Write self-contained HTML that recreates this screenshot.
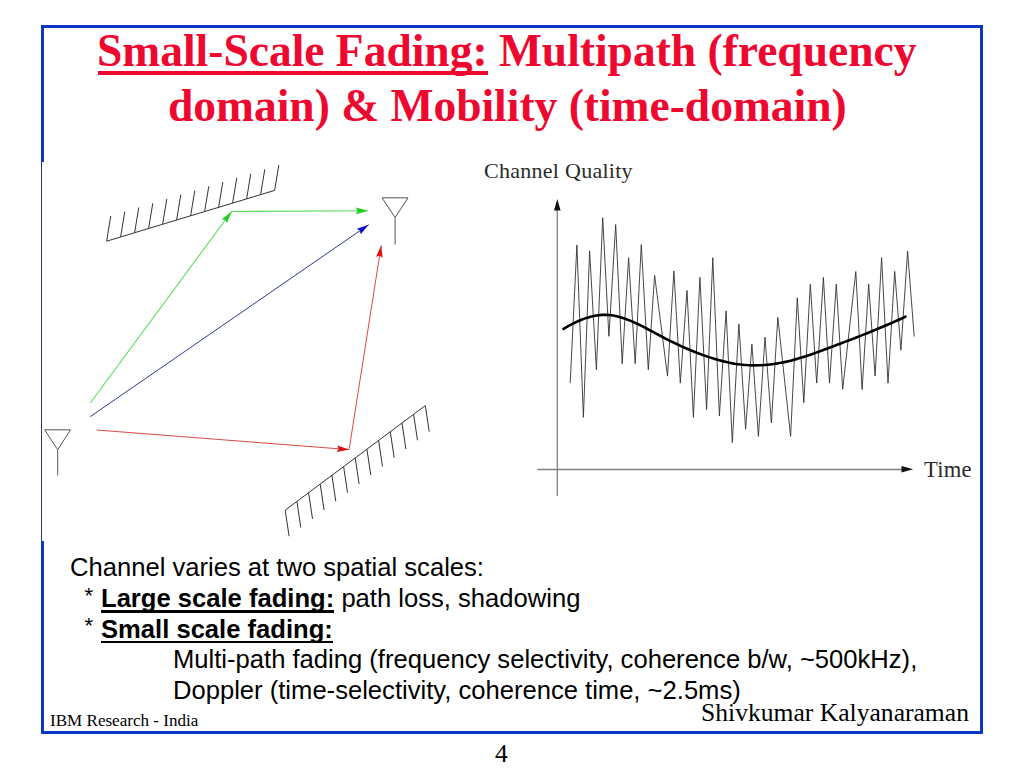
<!DOCTYPE html>
<html><head><meta charset="utf-8"><style>
html,body{margin:0;padding:0;background:#fff;width:1024px;height:768px;overflow:hidden;position:relative}
.frame{position:absolute;left:41px;top:25px;width:942px;height:709px;box-sizing:border-box;border:3px solid #0c36c8}
u{text-decoration:none;position:relative}
.tu{position:absolute;background:#ee0830}
.bu{position:absolute;background:#000}
</style></head><body>
<div class="frame"></div>
<svg width="1024" height="768" style="position:absolute;left:0;top:0"><rect x="42" y="162" width="933" height="379" fill="#fff"/><rect x="41" y="162" width="1" height="379" fill="#26358a"/><g stroke="#333" stroke-width="1" fill="none"><path d="M106.6 241.2 L274.6 190.4 M106.6 241.2 l4.2 -25.3 M120.6 237.0 l4.2 -25.3 M134.6 232.7 l4.2 -25.3 M148.6 228.5 l4.2 -25.3 M162.6 224.3 l4.2 -25.3 M176.6 220.0 l4.2 -25.3 M190.6 215.8 l4.2 -25.3 M204.6 211.6 l4.2 -25.3 M218.6 207.3 l4.2 -25.3 M232.6 203.1 l4.2 -25.3 M246.6 198.9 l4.2 -25.3 M260.6 194.6 l4.2 -25.3 M274.6 190.4 l4.2 -25.3" /><path d="M285.2 510.2 L425.3 405.6 M285.2 510.2 l3.9 26 M296.9 501.5 l3.9 26 M308.6 492.8 l3.9 26 M320.2 484.1 l3.9 26 M331.9 475.3 l3.9 26 M343.6 466.6 l3.9 26 M355.2 457.9 l3.9 26 M366.9 449.2 l3.9 26 M378.6 440.5 l3.9 26 M390.3 431.8 l3.9 26 M402.0 423.0 l3.9 26 M413.6 414.3 l3.9 26 M425.3 405.6 l3.9 26" /><path d="M382 197.8 L408 197.8 L395.1 217.5 Z M395.1 217.5 L395.1 244.7" stroke="#555" stroke-width="1"/><path d="M44.7 429.8 L70.5 429.8 L57.7 449.8 Z M57.7 449.8 L57.7 475.6" stroke="#555" stroke-width="1"/></g><path d="M90.3 403 L231.6 211.5 L368 210.8" stroke="#5cdc60" stroke-width="1.1" fill="none"/><path d="M231.6 211.5 L227.1 223.1 L225.3 220.0 L221.8 219.2 Z" fill="#22cc22" stroke="none"/><path d="M368.0 210.8 L356.0 214.2 L357.4 210.9 L356.0 207.6 Z" fill="#22cc22" stroke="none"/><path d="M90.3 416.6 L368.7 224.7" stroke="#2c3a88" stroke-width="1" fill="none"/><path d="M368.7 224.7 L360.7 234.2 L360.0 230.7 L356.9 228.8 Z" fill="#0a0ad0" stroke="none"/><path d="M96.6 430 L349.1 449.6 L381.2 245.4" stroke="#d84a4a" stroke-width="1" fill="none"/><path d="M349.1 449.6 L336.9 452.0 L338.6 448.8 L337.4 445.4 Z" fill="#dd1111" stroke="none"/><path d="M381.2 245.4 L382.6 257.8 L379.6 255.8 L376.1 256.7 Z" fill="#dd1111" stroke="none"/><path d="M557.3 205 L557.3 496" stroke="#808080" stroke-width="1.3"/><path d="M537.5 469.5 L905 469.5" stroke="#808080" stroke-width="1.3"/><path d="M557.3 198.9 L554 210.5 L560.6 210.5 Z" fill="#111"/><path d="M913.2 469.3 L901.5 466 L901.5 472.6 Z" fill="#111"/><path d="M570.2 383.1 L576.9 245.0 L583.4 417.3 L589.6 250.9 L596.4 369.8 L602.7 217.7 L608.9 336.3 L615.7 224.5 L622.2 363.6 L628.6 257.7 L635.2 363.6 L641.3 244.6 L648.3 369.8 L654.6 275.3 L667.5 376.1 L673.9 271.0 L680.3 383.1 L687.0 290.4 L693.4 417.3 L699.9 277.3 L706.6 409.5 L712.8 257.7 L719.4 415.9 L726.1 310.9 L732.3 442.5 L738.9 323.9 L745.6 429.2 L751.9 344.2 L758.4 436.3 L765.0 337.2 L771.4 423.0 L777.8 317.3 L790.6 436.3 L797.3 297.8 L803.8 402.7 L810.3 284.2 L816.7 383.1 L823.4 277.4 L829.5 383.1 L836.3 284.2 L842.7 389.2 L855.8 271.5 L862.1 389.5 L868.7 284.1 L875.1 376.0 L881.6 257.7 L888.0 383.1 L894.7 271.4 L900.9 350.2 L907.6 251.3 L914.2 336.6" stroke="#333" stroke-width="0.9" fill="none" stroke-linejoin="miter" stroke-miterlimit="20"/><path d="M563.5 328.81 L566.5 327.07 L569.5 325.41 L572.5 323.84 L575.5 322.37 L578.5 321.01 L581.5 319.76 L584.5 318.63 L587.5 317.64 L590.5 316.78 L593.5 316.06 L596.5 315.50 L599.5 315.10 L602.5 314.88 L605.5 314.83 L608.5 314.96 L611.5 315.28 L614.5 315.77 L617.5 316.42 L620.5 317.21 L623.5 318.14 L626.5 319.20 L629.5 320.36 L632.5 321.62 L635.5 322.97 L638.5 324.39 L641.5 325.88 L644.5 327.41 L647.5 328.98 L650.5 330.58 L653.5 332.20 L656.5 333.81 L659.5 335.42 L662.5 337.00 L665.5 338.55 L668.5 340.07 L671.5 341.56 L674.5 343.02 L677.5 344.45 L680.5 345.84 L683.5 347.19 L686.5 348.51 L689.5 349.79 L692.5 351.03 L695.5 352.24 L698.5 353.40 L701.5 354.52 L704.5 355.60 L707.5 356.64 L710.5 357.64 L713.5 358.58 L716.5 359.48 L719.5 360.33 L722.5 361.12 L725.5 361.85 L728.5 362.52 L731.5 363.12 L734.5 363.66 L737.5 364.12 L740.5 364.51 L743.5 364.83 L746.5 365.07 L749.5 365.23 L752.5 365.33 L755.5 365.35 L758.5 365.30 L761.5 365.18 L764.5 365.00 L767.5 364.74 L770.5 364.42 L773.5 364.04 L776.5 363.59 L779.5 363.08 L782.5 362.50 L785.5 361.87 L788.5 361.18 L791.5 360.42 L794.5 359.62 L797.5 358.77 L800.5 357.87 L803.5 356.93 L806.5 355.96 L809.5 354.95 L812.5 353.92 L815.5 352.85 L818.5 351.77 L821.5 350.67 L824.5 349.56 L827.5 348.44 L830.5 347.32 L833.5 346.19 L836.5 345.06 L839.5 343.92 L842.5 342.79 L845.5 341.64 L848.5 340.50 L851.5 339.34 L854.5 338.18 L857.5 337.01 L860.5 335.84 L863.5 334.65 L866.5 333.45 L869.5 332.25 L872.5 331.03 L875.5 329.80 L878.5 328.56 L881.5 327.30 L884.5 326.03 L887.5 324.74 L890.5 323.44 L893.5 322.12 L896.5 320.79 L899.5 319.44 L902.5 318.06 L905.4 316.72" stroke="#000" stroke-width="2.6" fill="none" stroke-linecap="round" stroke-linejoin="round"/></svg>
<div style="position:absolute;left:97px;top:27.59px;font-family:'Liberation Serif',serif;font-weight:bold;font-size:45.5px;line-height:45.5px;color:#ee0830;white-space:pre;">Small-Scale Fading: Multipath (frequency</div>
<div style="position:absolute;left:168px;top:82.89px;font-family:'Liberation Serif',serif;font-weight:bold;font-size:45.5px;line-height:45.5px;color:#ee0830;white-space:pre;">domain) &amp; Mobility (time-domain)</div>
<div style="position:absolute;left:70px;top:555.23px;font-family:'Liberation Sans',sans-serif;font-weight:normal;font-size:25.6px;line-height:25.6px;color:#000;white-space:pre;">Channel varies at two spatial scales:</div>
<div style="position:absolute;left:84.5px;top:584.58px;font-family:'Liberation Sans',sans-serif;font-weight:normal;font-size:22px;line-height:22px;color:#000;white-space:pre;">*</div>
<div style="position:absolute;left:101px;top:586.03px;font-family:'Liberation Sans',sans-serif;font-weight:normal;font-size:25.6px;line-height:25.6px;color:#000;white-space:pre;"><b>Large scale fading:</b> path loss, shadowing</div>
<div style="position:absolute;left:84.5px;top:615.18px;font-family:'Liberation Sans',sans-serif;font-weight:normal;font-size:22px;line-height:22px;color:#000;white-space:pre;">*</div>
<div style="position:absolute;left:101px;top:617.03px;font-family:'Liberation Sans',sans-serif;font-weight:normal;font-size:25.6px;line-height:25.6px;color:#000;white-space:pre;"><b>Small scale fading:</b></div>
<div style="position:absolute;left:173px;top:646.83px;font-family:'Liberation Sans',sans-serif;font-weight:normal;font-size:25.6px;line-height:25.6px;color:#000;white-space:pre;">Multi-path fading (frequency selectivity, coherence b/w, ~500kHz),</div>
<div style="position:absolute;left:173px;top:677.83px;font-family:'Liberation Sans',sans-serif;font-weight:normal;font-size:25.6px;line-height:25.6px;color:#000;white-space:pre;">Doppler (time-selectivity, coherence time, ~2.5ms)</div>
<div style="position:absolute;left:484px;top:160.07px;font-family:'Liberation Serif',serif;font-weight:normal;font-size:22px;line-height:22px;color:#2a2a2a;white-space:pre;"><span style='letter-spacing:0.27px'>Channel Quality</span></div>
<div style="position:absolute;left:924px;top:458.67px;font-family:'Liberation Serif',serif;font-weight:normal;font-size:22.6px;line-height:22.6px;color:#2a2a2a;white-space:pre;"><span style='letter-spacing:0.2px'>Time</span></div>
<div style="position:absolute;left:50px;top:712.10px;font-family:'Liberation Serif',serif;font-weight:normal;font-size:17.07px;line-height:17.07px;color:#000;white-space:pre;">IBM Research - India</div>
<div style="position:absolute;left:701px;top:700.16px;font-family:'Liberation Serif',serif;font-weight:normal;font-size:25.6px;line-height:25.6px;color:#000;white-space:pre;">Shivkumar Kalyanaraman</div>
<div style="position:absolute;left:495px;top:740.56px;font-family:'Liberation Serif',serif;font-weight:normal;font-size:25.6px;line-height:25.6px;color:#000;white-space:pre;">4</div>

<div class='tu' style='left:98px;top:71px;width:390px;height:4.2px'></div><div class='bu' style='left:101.2px;top:610.3px;width:233px;height:2.6px'></div><div class='bu' style='left:101.2px;top:640.5px;width:231.7px;height:2.6px'></div>
</body></html>
